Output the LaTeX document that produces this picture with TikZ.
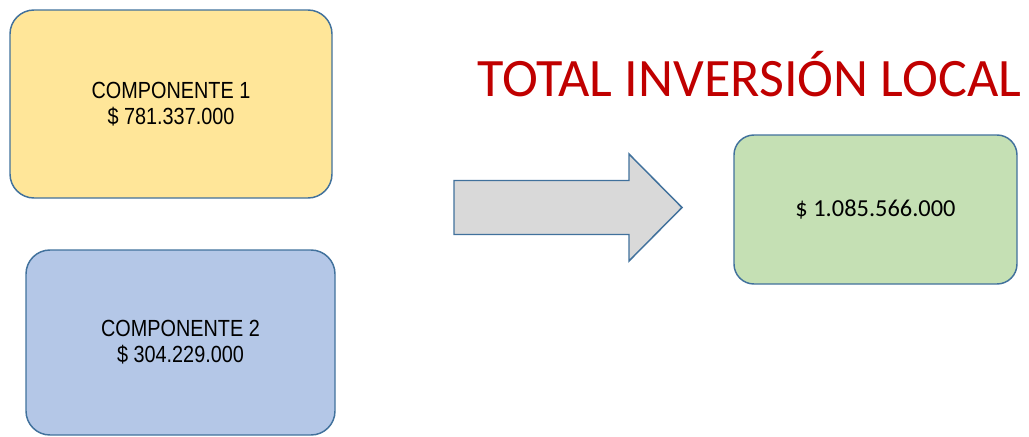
\documentclass[tikz,border=0pt]{standalone}
\usepackage{fontspec}
\setmainfont{Carlito}
\newfontfamily\narrowfont[FakeStretch=0.85]{Liberation Sans}
\usepackage{xcolor}
\usetikzlibrary{positioning}
\definecolor{bordeazul}{HTML}{41719C}
\definecolor{amarillo}{HTML}{FFE699}
\definecolor{azulclaro}{HTML}{B4C7E7}
\definecolor{verde}{HTML}{C5E0B4}
\definecolor{gris}{HTML}{D9D9D9}
\definecolor{rojo}{HTML}{C00000}

\begin{document}
\begin{tikzpicture}[x=0.75pt, y=-0.75pt,
	caja/.style={draw=bordeazul, line width=1.1pt, align=center, inner sep=0pt},
	comp/.style={caja, rounded corners=18pt, font=\narrowfont\fontsize{17.5}{19.5}\selectfont},
	flecha/.style={draw=bordeazul, line width=1.1pt, fill=gris, line join=miter}]
					\useasboundingbox (0,0) rectangle (1029,436);
					%components
					\node[comp, fill=amarillo, minimum width=241.5pt, minimum height=141pt] (comp1) at (171,104) {COMPONENTE 1\\\$ 781.337.000};
					\node[comp, fill=azulclaro, minimum width=231.75pt, minimum height=138.75pt] (comp2) at (180.5,342.5) {COMPONENTE 2\\\$ 304.229.000};
					%title
					\node[anchor=base west, inner sep=0pt, text=rojo, font=\fontsize{40.6}{43}\selectfont] (titulo) at (477,96) {TOTAL INVERSIÓN LOCAL};
					%total
					\node[caja, rounded corners=15pt, fill=verde, minimum width=212.25pt, minimum height=111.75pt, font=\fontsize{18.3}{20}\selectfont] (total) at (875.5,209.5) {\$ 1.085.566.000};
					%block arrow
					\draw[flecha] (454,180.5) -- (629,180.5) -- (629,154) -- (682,207.5) -- (629,261) -- (629,234.5) -- (454,234.5) -- cycle;
				\end{tikzpicture}
\end{document}
